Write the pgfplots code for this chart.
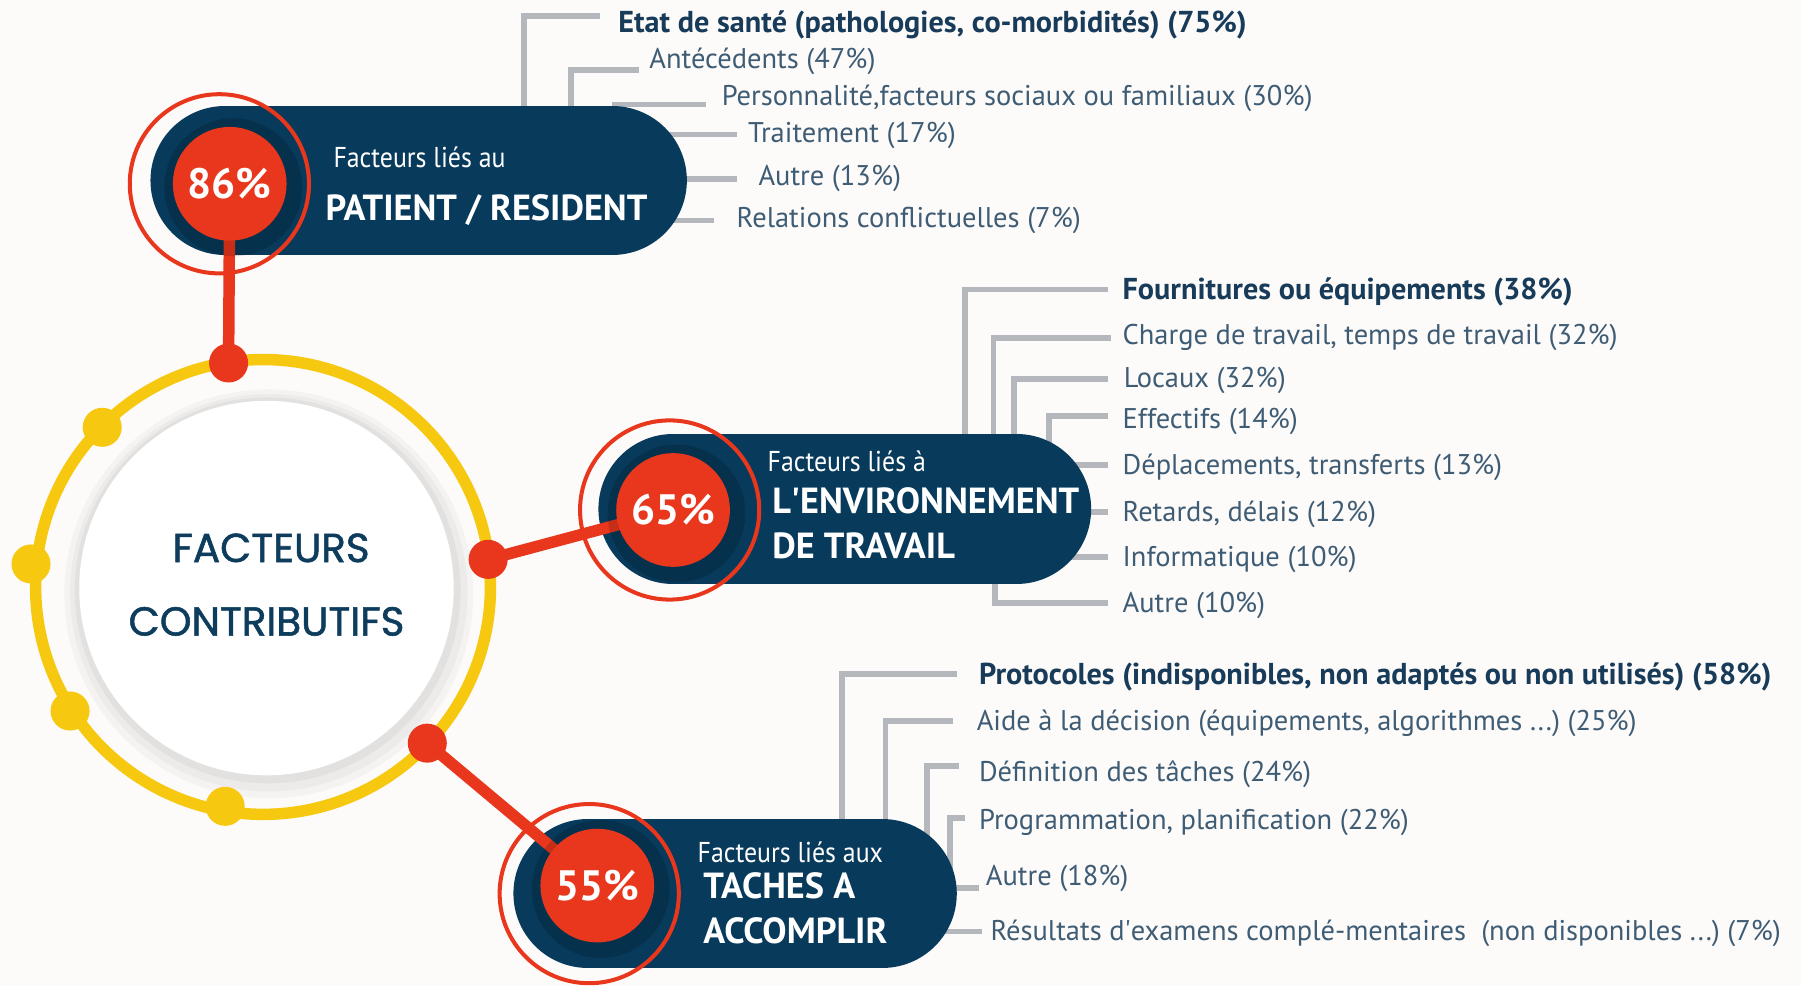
\documentclass[border=0pt]{standalone}
\usepackage{fontspec}
\setmainfont{PT Sans}
\newfontfamily\headfont{PT Sans}[FakeStretch=0.9]
\newfontfamily\centerfont{Poppins}[FakeBold=1.3]
\usepackage{pgfplots}
\usepackage{pgfplotstable}
\pgfplotsset{compat=1.18}
\definecolor{navy}{HTML}{073A5B}
\definecolor{redc}{HTML}{E9371D}
\definecolor{yel}{HTML}{F6C810}
\definecolor{conn}{HTML}{B4B7BB}
\definecolor{itemtext}{HTML}{3F5C75}
\definecolor{itembold}{HTML}{183B59}
\definecolor{ctext}{HTML}{0D3C5C}
\definecolor{bgc}{HTML}{FCFBFA}

% sub-factors: text position (px), share (%), label
\pgfplotstableread[col sep=semicolon]{
tx;ty;pct;label
538;22;75;Etat de santé (pathologies, co-morbidités)
977;254;38;Fournitures ou équipements
852;589;58;Protocoles (indisponibles, non adaptés ou non utilisés)
}\firstitems
\pgfplotstableread[col sep=semicolon]{
tx;ty;pct;label
565;53;47;Antécédents
628;86;30;Personnalité,facteurs sociaux ou familiaux
651;118;17;Traitement
660;155;13;Autre
641;192;7;Relations conflictuelles
977;294;32;Charge de travail, temps de travail
978;331;32;Locaux
977;367;14;Effectifs
977;407;13;Déplacements, transferts
977;448;12;Retards, délais
977;487;10;Informatique
977;527;10;Autre
850;630;25;Aide à la décision (équipements, algorithmes ...)
852;674;24;Définition des tâches
852;716;22;Programmation, planification
858;765;18;Autre
862;813;7;Résultats d\textquotesingle examens complé-mentaires \ (non disponibles ...)
}\otheritems
% main factors
\pgfplotstableread{
x y v
200 160 86
586 444 65
520 771 55
}\mainpct

\pgfplotsset{/pgf/number format/assume math mode=true,
  itemlist/.style={draw=none, mark=none, point meta=explicit symbolic,
  visualization depends on={\thisrow{pct}\as\pctv},
  nodes near coords={\pgfplotspointmeta\ (\pgfmathprintnumber{\pctv}\%)},
  every node near coord/.append style={anchor=west, inner sep=0pt, text=itemtext,
    font=\fontsize{12.4}{14}\selectfont}},
  conline/.style={color=conn, line width=2.5pt, line join=miter, mark=none},
  shade/.style={only marks, mark=*, mark options={draw opacity=0, fill=black, fill opacity=#1}}}

\begin{document}
\begin{tikzpicture}
\begin{axis}[width=784pt, height=429pt, scale only axis,
  xmin=0, xmax=1568, ymin=0, ymax=858, y dir=reverse,
  ticks=none, axis line style={draw=none}, clip=false]
% background
\addplot[fill=bgc, draw=none] coordinates {(0,0) (1568,0) (1568,858) (0,858) (0,0)};
% grey connectors
\addplot[conline] coordinates {(522,14) (456,14) (456,120)};
\addplot[conline] coordinates {(556,61) (497,61) (497,120)};
\addplot[conline] coordinates {(533,91) (615,91)};
\addplot[conline] coordinates {(533,117) (642,117)};
\addplot[conline] coordinates {(533,156) (642,156)};
\addplot[conline] coordinates {(533,192) (622,192)};
\addplot[conline] coordinates {(965,252) (840,252) (840,420)};
\addplot[conline] coordinates {(967,294) (865,294) (865,420)};
\addplot[conline] coordinates {(965,330) (883,330) (883,420)};
\addplot[conline] coordinates {(965,362) (913,362) (913,420)};
\addplot[conline] coordinates {(885,405) (965,405)};
\addplot[conline] coordinates {(885,446) (965,446)};
\addplot[conline] coordinates {(885,485) (965,485)};
\addplot[conline] coordinates {(965,525) (866,525) (866,470)};
\addplot[conline] coordinates {(833,587) (733,587) (733,760)};
\addplot[conline] coordinates {(830,628) (771,628) (771,760)};
\addplot[conline] coordinates {(835,667) (807,667) (807,760)};
\addplot[conline] coordinates {(840,712) (827,712) (827,760)};
\addplot[conline] coordinates {(768,773) (852,773)};
\addplot[conline] coordinates {(768,811) (855,811)};
% pills
\addplot[navy, line width=65pt, line cap=round, mark=none] coordinates {(196,157) (533,157)};
\addplot[navy, line width=65pt, line cap=round, mark=none] coordinates {(586,443) (885,443)};
\addplot[navy, line width=65pt, line cap=round, mark=none] coordinates {(512,778) (768,778)};
% central circle: shadow, ring
\addplot[shade=0.03, mark size=89pt] coordinates {(234,517)};
\addplot[shade=0.03, mark size=86.5pt] coordinates {(234,516)};
\addplot[shade=0.04, mark size=84pt] coordinates {(233,514)};
\addplot[only marks, mark=o, mark size=99pt, color=yel, mark options={line width=5pt}] coordinates {(229,511)};
% red links
\addplot[redc, line width=5pt, mark=none] coordinates {(199,316) (200,160)};
\addplot[redc, line width=5pt, mark=none] coordinates {(425,487) (586,444)};
\addplot[redc, line width=5pt, mark=none] coordinates {(372,647) (520,771)};
% dark halo, red outline rings, red discs with shares
\addplot[shade=0.15, mark size=30pt] coordinates {(203,163) (589,447) (523,774)};
\addplot[only marks, mark=o, mark size=39pt, color=redc, mark options={line width=1.75pt}] coordinates {(191,160) (583,444) (513,778)};
\addplot[only marks, mark=*, mark size=24.75pt, color=redc, mark options={draw opacity=0}, point meta=explicit,
  nodes near coords={\pgfmathprintnumber{\pgfplotspointmeta}\%},
  every node near coord/.append style={anchor=center, text=white, font=\bfseries\fontsize{18.5}{20}\selectfont}]
  table[x=x, y=y, meta=v] {\mainpct};
% dots on the ring
\addplot[only marks, mark=*, mark size=8.5pt, color=yel, mark options={draw opacity=0}] coordinates {(89,372) (27,491) (61,619) (196,702)};
\addplot[only marks, mark=*, mark size=8.5pt, color=redc, mark options={draw opacity=0}] coordinates {(199,316) (425,487) (372,647)};
% white centre with its title
\addplot[only marks, mark=*, mark size=81.5pt, color=white, mark options={draw opacity=0}] coordinates {(232,512)};
\addplot[draw=none, mark=none, point meta=explicit symbolic, nodes near coords,
  every node near coord/.append style={anchor=center, inner sep=0pt, text=ctext,
    font=\centerfont\fontsize{17.6}{20}\selectfont}]
  coordinates {(236,477) [FACTEURS] (232,541) [CONTRIBUTIFS]};
% pill titles
\node[anchor=west, inner sep=0pt, text=white, font=\headfont\fontsize{12.5}{14}\selectfont] at (axis cs:290,137) {Facteurs liés au};
\node[anchor=west, inner sep=0pt, text=white, font=\bfseries\fontsize{15.8}{18}\selectfont] at (axis cs:283,183) {PATIENT / RESIDENT};
\node[anchor=west, inner sep=0pt, text=white, font=\headfont\fontsize{12.5}{14}\selectfont] at (axis cs:668,402) {Facteurs liés à};
\node[anchor=west, inner sep=0pt, text=white, font=\bfseries\fontsize{15.8}{18}\selectfont] at (axis cs:672,436) {L\textquotesingle ENVIRONNEMENT};
\node[anchor=west, inner sep=0pt, text=white, font=\bfseries\fontsize{15.8}{18}\selectfont] at (axis cs:672,475) {DE TRAVAIL};
\node[anchor=west, inner sep=0pt, text=white, font=\headfont\fontsize{12.5}{14}\selectfont] at (axis cs:607,742) {Facteurs liés aux};
\node[anchor=west, inner sep=0pt, text=white, font=\bfseries\fontsize{15.8}{18}\selectfont] at (axis cs:612,771) {TACHES A};
\node[anchor=west, inner sep=0pt, text=white, font=\bfseries\fontsize{15.8}{18}\selectfont] at (axis cs:612,810) {ACCOMPLIR};
% sub-factor lists
\addplot[itemlist, every node near coord/.append style={text=itembold, font=\bfseries\fontsize{13.15}{15}\selectfont}]
  table[x=tx, y=ty, meta=label] {\firstitems};
\addplot[itemlist] table[x=tx, y=ty, meta=label] {\otheritems};
\end{axis}
\pgfresetboundingbox
\path[use as bounding box] (current axis.south west) rectangle (current axis.north east);
\end{tikzpicture}
\end{document}
